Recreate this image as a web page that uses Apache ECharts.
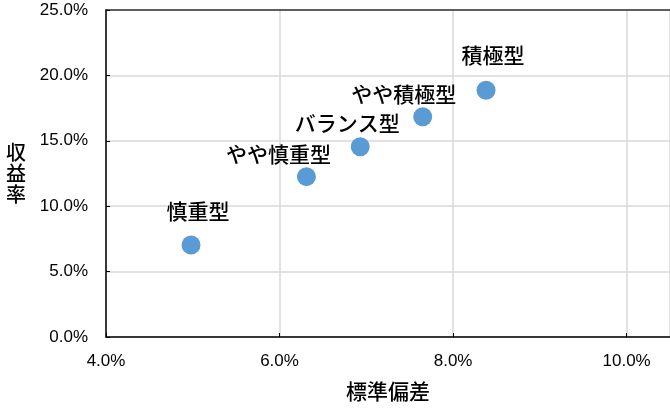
<!DOCTYPE html>
<html>
<head>
<meta charset="utf-8">
<script src="https://cdn.jsdelivr.net/npm/echarts@6/dist/echarts.min.js"></script>
<style>
  html, body { margin: 0; padding: 0; background: #fff; }
  #chart { width: 670px; height: 412px; }
</style>
</head>
<body>
<div id="chart"></div>
<script>
// Data
const categories = ['慎重型', 'やや慎重型', 'バランス型', 'やや積極型', '積極型'];
const stdDev = [4.98, 6.31, 6.93, 7.65, 8.38];   // 標準偏差 (%)
const returns = [7.03, 12.26, 14.55, 16.84, 18.86]; // 収益率 (%)
const xAxisTitle = '標準偏差';
const yAxisTitle = '収益率';

// Label placement (style only)
const labelOffsets = [[7, -34], [-28, -23], [-13, -24], [-19, -23], [7, -35]];

const pct = v => v.toFixed(1) + '%';
const tickFont = { fontFamily: 'Liberation Sans', fontSize: 17, color: '#000' };
const cjkFont = 'Noto Sans CJK JP';

const chart = echarts.init(document.getElementById('chart'), null, { renderer: 'canvas' });
chart.setOption({
  animation: false,
  backgroundColor: '#ffffff',
  grid: { left: 106, right: -3, top: 10, bottom: 75, containLabel: false },
  xAxis: [{
    type: 'value', min: 4, max: 10.5, interval: 2,
    name: xAxisTitle, nameLocation: 'middle', nameGap: 44,
    nameTextStyle: { fontFamily: cjkFont, fontSize: 21, fontWeight: 500, color: '#000' },
    axisLine: { show: true, onZero: false, lineStyle: { color: '#000', width: 1.5 } },
    axisTick: { show: true, inside: true, length: 4, lineStyle: { color: '#000' } },
    axisLabel: Object.assign({ margin: 16, formatter: pct, showMaxLabel: false }, tickFont),
    splitLine: { show: true, lineStyle: { color: '#d9d9d9', width: 1.5 } }
  }, {
    type: 'value', min: 4, max: 10.5, position: 'top',
    axisLine: { show: true, onZero: false, lineStyle: { color: '#333', width: 1.5 } },
    axisTick: { show: false }, axisLabel: { show: false }, splitLine: { show: false }
  }],
  yAxis: {
    type: 'value', min: 0, max: 25, interval: 5,
    name: yAxisTitle.split('').join('\n'), nameLocation: 'middle', nameRotate: 0, nameGap: 80,
    nameTextStyle: { fontFamily: cjkFont, fontSize: 20, lineHeight: 21, fontWeight: 500, color: '#000' },
    axisLine: { show: true, onZero: false, lineStyle: { color: '#000', width: 1.5 } },
    axisTick: { show: true, inside: true, length: 4, lineStyle: { color: '#000' } },
    axisLabel: Object.assign({ margin: 18, formatter: pct }, tickFont),
    splitLine: { show: true, lineStyle: { color: '#d9d9d9', width: 1.5 } }
  },
  series: [{
    type: 'scatter',
    symbol: 'circle',
    symbolSize: 19,
    itemStyle: { color: '#5B9BD5', opacity: 1 },
    data: categories.map((c, i) => ({
      name: c,
      value: [stdDev[i], returns[i]],
      label: { offset: labelOffsets[i] }
    })),
    label: {
      show: true, position: 'inside',
      formatter: p => p.name,
      fontFamily: cjkFont, fontSize: 21, fontWeight: 500, color: '#000'
    }
  }]
});
</script>
</body>
</html>
